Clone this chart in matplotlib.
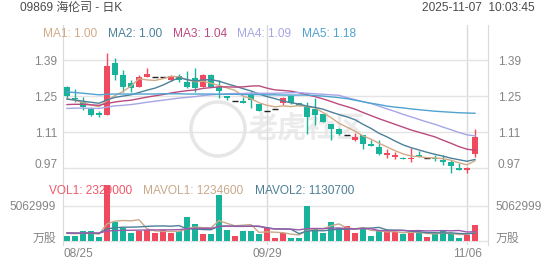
import matplotlib
matplotlib.use('Agg')
import matplotlib.pyplot as plt
import matplotlib.transforms as mtrans
from matplotlib.patches import Ellipse

plt.rcParams['font.family'] = ['Liberation Sans', 'Noto Sans CJK SC', 'DejaVu Sans']

# ----------------------
# data
# ----------------------
opens = [1.284, 1.243, 1.228, 1.204, 1.183, 1.176, 1.377, 1.332, 1.302, 1.286,
         1.325, 1.323, 1.323, 1.312, 1.329, 1.306, 1.319, 1.286, 1.332, 1.284,
         1.251, 1.230, 1.232, 1.260, 1.218, 1.191, 1.199, 1.222, 1.251, 1.222,
         1.208, 1.199, 1.179, 1.140, 1.122, 1.098, 1.079, 1.098, 1.062, 1.053,
         1.020, 1.014, 1.010, 1.004, 1.020, 1.008, 1.010, 0.999, 0.992, 0.971,
         0.961, 1.023]
closes = [1.251, 1.237, 1.206, 1.176, 1.177, 1.367, 1.332, 1.286, 1.282, 1.325,
          1.338, 1.323, 1.323, 1.328, 1.312, 1.286, 1.282, 1.332, 1.286, 1.271,
          1.241, 1.230, 1.222, 1.234, 1.193, 1.191, 1.199, 1.241, 1.222, 1.212,
          1.169, 1.176, 1.150, 1.122, 1.101, 1.098, 1.092, 1.062, 1.057, 1.023,
          1.027, 1.020, 1.004, 1.010, 1.014, 1.008, 1.004, 0.992, 0.979, 0.962,
          0.969, 1.090]
highs = [1.290, 1.277, 1.247, 1.208, 1.192, 1.416, 1.397, 1.351, 1.312, 1.332,
         1.358, 1.323, 1.323, 1.332, 1.338, 1.347, 1.358, 1.338, 1.336, 1.312,
         1.251, 1.230, 1.247, 1.267, 1.219, 1.191, 1.199, 1.247, 1.254, 1.222,
         1.228, 1.241, 1.180, 1.143, 1.124, 1.098, 1.108, 1.100, 1.079, 1.079,
         1.044, 1.034, 1.014, 1.046, 1.036, 1.008, 1.020, 1.020, 1.000, 0.988,
         0.975, 1.120]
lows = [1.241, 1.225, 1.195, 1.173, 1.167, 1.176, 1.312, 1.267, 1.267, 1.284,
        1.323, 1.323, 1.323, 1.310, 1.303, 1.282, 1.267, 1.284, 1.284, 1.241,
        1.234, 1.230, 1.222, 1.202, 1.193, 1.191, 1.199, 1.215, 1.219, 1.212,
        1.101, 1.137, 1.149, 1.079, 1.099, 1.098, 1.075, 1.044, 1.057, 1.021,
        1.008, 1.004, 1.004, 0.992, 1.011, 1.008, 0.996, 0.981, 0.951, 0.962,
        0.949, 1.014]

ma1 = [1.240, 1.233, 1.225, 1.215, 1.209, 1.233, 1.252, 1.268, 1.289, 1.318,
       1.313, 1.311, 1.318, 1.327, 1.325, 1.314, 1.306, 1.308, 1.300, 1.291,
       1.282, 1.272, 1.250, 1.240, 1.224, 1.214, 1.208, 1.212, 1.209, 1.213,
       1.209, 1.204, 1.186, 1.166, 1.144, 1.129, 1.113, 1.095, 1.082, 1.066,
       1.052, 1.037, 1.025, 1.016, 1.014, 1.010, 1.009, 1.006, 1.000, 0.990,
       0.982, 0.998]
ma2 = [1.238, 1.235, 1.230, 1.226, 1.222, 1.235, 1.245, 1.250, 1.255, 1.264,
       1.273, 1.281, 1.293, 1.308, 1.322, 1.314, 1.309, 1.313, 1.314, 1.308,
       1.298, 1.289, 1.279, 1.270, 1.258, 1.248, 1.240, 1.231, 1.224, 1.219,
       1.211, 1.206, 1.199, 1.188, 1.178, 1.169, 1.158, 1.140, 1.124, 1.105,
       1.091, 1.075, 1.060, 1.049, 1.040, 1.031, 1.023, 1.016, 1.008, 1.002,
       0.996, 1.003]
ma3 = [1.217, 1.218, 1.218, 1.216, 1.214, 1.221, 1.227, 1.231, 1.234, 1.240,
       1.246, 1.251, 1.256, 1.262, 1.267, 1.271, 1.274, 1.280, 1.283, 1.286,
       1.286, 1.285, 1.286, 1.289, 1.290, 1.281, 1.274, 1.272, 1.269, 1.263,
       1.255, 1.248, 1.239, 1.229, 1.218, 1.209, 1.199, 1.186, 1.174, 1.162,
       1.151, 1.140, 1.129, 1.118, 1.109, 1.100, 1.091, 1.078, 1.066, 1.053,
       1.043, 1.039]
ma4 = [1.202, 1.203, 1.203, 1.202, 1.202, 1.207, 1.212, 1.214, 1.217, 1.221,
       1.226, 1.230, 1.234, 1.238, 1.242, 1.245, 1.248, 1.252, 1.255, 1.257,
       1.259, 1.260, 1.260, 1.262, 1.261, 1.261, 1.261, 1.262, 1.263, 1.264,
       1.261, 1.259, 1.257, 1.255, 1.253, 1.244, 1.236, 1.228, 1.221, 1.211,
       1.200, 1.190, 1.179, 1.169, 1.159, 1.149, 1.140, 1.129, 1.119, 1.108,
       1.099, 1.095]
ma5 = [1.266, 1.264, 1.261, 1.258, 1.255, 1.257, 1.258, 1.258, 1.258, 1.258,
       1.258, 1.258, 1.259, 1.259, 1.259, 1.258, 1.258, 1.258, 1.258, 1.257,
       1.257, 1.257, 1.256, 1.256, 1.256, 1.255, 1.255, 1.254, 1.254, 1.254,
       1.254, 1.252, 1.250, 1.247, 1.244, 1.240, 1.234, 1.228, 1.222, 1.217,
       1.211, 1.207, 1.204, 1.200, 1.197, 1.194, 1.191, 1.189, 1.187, 1.185,
       1.184, 1.183]
ma_names = ['MA1', 'MA2', 'MA3', 'MA4', 'MA5']
ma_last = ['1.00', '1.00', '1.04', '1.09', '1.18']

# volume in shares
volume = [0.75, 0.70, 1.45, 1.45, 0.61, 8.05, 2.7, 1.9, 1.2, 1.4,
          1.55, 1.2, 1.55, 1.08, 1.45, 3.5, 2.5, 1.0, 1.0, 6.6,
          1.55, 0.75, 1.45, 1.45, 1.0, 1.9, 0.5, 1.08, 0.47, 0.47,
          5.0, 1.65, 1.08, 2.7, 1.8, 2.1, 1.08, 1.9, 0.7, 1.45,
          1.4, 1.3, 1.0, 1.2, 1.25, 0.6, 1.08, 1.5, 0.95, 0.5,
          0.9, 2.329]
mavol1 = [1.10, 1.05, 1.10, 1.10, 0.99, 2.45, 2.85, 2.94, 2.89, 3.05,
          1.75, 1.45, 1.38, 1.36, 1.37, 1.76, 2.02, 1.91, 1.89, 2.92,
          2.53, 2.18, 2.27, 2.36, 1.24, 1.31, 1.26, 1.19, 0.99, 0.88,
          1.50, 1.73, 1.73, 2.18, 2.45, 1.87, 1.75, 1.92, 1.52, 1.45,
          1.31, 1.35, 1.17, 1.27, 1.23, 1.07, 1.03, 1.13, 1.08, 0.93,
          0.99, 1.2346]
mavol2 = [1.15, 1.12, 1.12, 1.13, 1.10, 1.74, 1.90, 1.98, 1.99, 2.02,
          2.10, 2.15, 2.16, 2.12, 2.21, 1.75, 1.73, 1.64, 1.62, 2.14,
          2.14, 2.10, 2.09, 2.13, 2.08, 1.92, 1.72, 1.73, 1.68, 1.06,
          1.41, 1.50, 1.46, 1.59, 1.67, 1.69, 1.74, 1.83, 1.85, 1.95,
          1.59, 1.55, 1.54, 1.39, 1.34, 1.19, 1.19, 1.15, 1.17, 1.08,
          1.03, 1.1307]
mavol3 = [1.15, 1.14, 1.14, 1.15, 1.14, 1.42, 1.50, 1.53, 1.54, 1.56,
          1.58, 1.59, 1.60, 1.60, 1.63, 1.75, 1.82, 1.82, 1.81, 2.08,
          2.12, 2.12, 2.12, 2.12, 2.14, 1.84, 1.73, 1.73, 1.70, 1.60,
          1.78, 1.80, 1.78, 1.84, 1.87, 1.80, 1.73, 1.78, 1.76, 1.50,
          1.49, 1.52, 1.50, 1.47, 1.50, 1.44, 1.47, 1.49, 1.46, 1.51,
          1.29, 1.34]
volume = [v * 1e6 for v in volume]
mavol1 = [v * 1e6 for v in mavol1]
mavol2 = [v * 1e6 for v in mavol2]
mavol3 = [v * 1e6 for v in mavol3]

price_ticks = [0.97, 1.11, 1.25, 1.39]
vol_tick = 5062999
xlabel_idx = [0, 25, 50]
xlabels = ['08/25', '09/29', '11/06']

# ----------------------
# styles
# ----------------------
W, H = 552, 265
UP, DOWN = '#f04a5f', '#19b39b'
ma_colors = ['#d2aa86', '#4d8099', '#bb4a7e', '#a6a5e6', '#4ea3d0']
vol_colors = ['#c9a98b', '#4d7e97', '#9b5aa8']
GRID = '#e4e4e4'
LABEL = '#858585'
FS = 8.6


def box(x0, y0, x1, y1):
    return [x0 / W, 1 - y1 / H, (x1 - x0) / W, (y1 - y0) / H]


fig = plt.figure(figsize=(W / 100, H / 100), dpi=100)
ax = fig.add_axes(box(63, 25, 488, 180))
axv = fig.add_axes(box(63, 180, 488, 245), sharex=ax)

n = len(closes)
x = list(range(n))

# ----------------------
# candles
# ----------------------
for i in x:
    o, c = opens[i], closes[i]
    if o == c:
        ax.hlines(c, i - 0.36, i + 0.36, color='#222222', lw=1.0, zorder=3)
        continue
    col = UP if c > o else DOWN
    ax.vlines(i, lows[i], highs[i], color=col, lw=1.0, zorder=2)
    ax.bar(i, abs(c - o), bottom=min(o, c), width=0.72, color=col, zorder=3)

for vals, col in zip([ma1, ma2, ma3, ma4, ma5], ma_colors):
    ax.plot(x, vals, color=col, lw=1.0, zorder=4)

ax.set_xlim(-0.5, 52.625)
ax.set_ylim(0.923, 1.527)
ax.set_yticks(price_ticks)
ax.set_yticklabels(['%.2f' % t for t in price_ticks])
ax.grid(axis='y', color=GRID, lw=1.0)
ax.tick_params(axis='y', length=0, labelleft=True, labelright=True,
               labelsize=FS, labelcolor=LABEL, pad=4)
ax.tick_params(axis='x', length=0, labelbottom=False)
for lab in ax.get_yticklabels(which='both'):
    pass
for s in ['top', 'bottom']:
    ax.spines[s].set_visible(False)
for s in ['left', 'right']:
    ax.spines[s].set_color('#dadada')

# right labels sit a bit further out
for t in ax.yaxis.get_major_ticks():
    t.label2.set_transform(t.label2.get_transform() +
                           mtrans.ScaledTranslation(4 / 100, 0, fig.dpi_scale_trans))
lowest = ax.yaxis.get_major_ticks()[0]
for lab in (lowest.label1, lowest.label2):
    lab.set_transform(lab.get_transform() +
                      mtrans.ScaledTranslation(0, 4 / 100, fig.dpi_scale_trans))

# ----------------------
# volume
# ----------------------
vcols = [UP if closes[i] >= opens[i] else DOWN for i in x]
axv.bar(x, volume, width=0.72, color=vcols, zorder=3)
for vals, col in zip([mavol1, mavol2, mavol3], vol_colors):
    axv.plot(x, vals, color=col, lw=1.0, zorder=4)

px = vol_tick / 35.3
axv.set_ylim(-4 * px, 61 * px)
axv.set_yticks([0, vol_tick])
axv.set_yticklabels(['万股', str(vol_tick)])
axv.grid(axis='y', color=GRID, lw=1.0)
axv.tick_params(axis='y', length=0, labelleft=True, labelright=True,
                labelsize=FS, labelcolor=LABEL, pad=5)
vt = axv.yaxis.get_major_ticks()
for t in vt:
    t.label2.set_transform(t.label2.get_transform() +
                           mtrans.ScaledTranslation(1 / 100, 0, fig.dpi_scale_trans))
for lab in (vt[0].label1, vt[0].label2):
    lab.set_transform(lab.get_transform() +
                      mtrans.ScaledTranslation(0, 4 / 100, fig.dpi_scale_trans))

axv.set_xticks(xlabel_idx)
axv.set_xticklabels(xlabels)
axv.tick_params(axis='x', length=0, labelsize=FS, labelcolor=LABEL, pad=2)
first = axv.get_xticklabels()[0]
first.set_horizontalalignment('left')
first.set_transform(first.get_transform() +
                    mtrans.ScaledTranslation(-3 / 100, 0, fig.dpi_scale_trans))
for s in ['top', 'bottom']:
    axv.spines[s].set_visible(False)
for s in ['left', 'right']:
    axv.spines[s].set_color('#dadada')

# date separators through both panels
for i in xlabel_idx[1:]:
    ax.axvline(i, color='#dadada', lw=1.0, zorder=1)
    axv.axvline(i, color='#dadada', lw=1.0, zorder=1)

# ----------------------
# header, legends, watermark
# ----------------------
fig.text(20 / W, 1 - 8 / H, '09869 海伦司 - 日K', color='#4a4a4a',
         fontsize=FS, va='center')
fig.text(535 / W, 1 - 8 / H, '2025-11-07  10:03:45', color='#4a4a4a',
         fontsize=FS, va='center', ha='right')

ma_x = [43, 108, 173, 237, 302]
for xp, name, val, col in zip(ma_x, ma_names, ma_last, ma_colors):
    fig.text(xp / W, 1 - 34 / H, '%s: %s' % (name, val), color=col,
             fontsize=FS, va='center')

vol_legend = [(49, 'VOL1: 2329000', '#f0596b'),
              (143, 'MAVOL1: 1234600', vol_colors[0]),
              (255, 'MAVOL2: 1130700', vol_colors[1])]
for xp, txt, col in vol_legend:
    fig.text(xp / W, 1 - 191 / H, txt, color=col, fontsize=FS, va='center')

ax.text(307 / W, 1 - 129 / H, '老虎社区', transform=fig.transFigure,
        fontsize=21, fontweight='bold', color='#e6e6e6', alpha=0.8,
        ha='center', va='center', zorder=0.5)
ax.add_patch(Ellipse((218 / W, 1 - 129 / H), 54 / W, 54 / H,
                     transform=fig.transFigure, fill=False,
                     edgecolor='#e6e6e6', lw=2.5, zorder=0.5))

fig.savefig('out.png', dpi=100, facecolor='white')
